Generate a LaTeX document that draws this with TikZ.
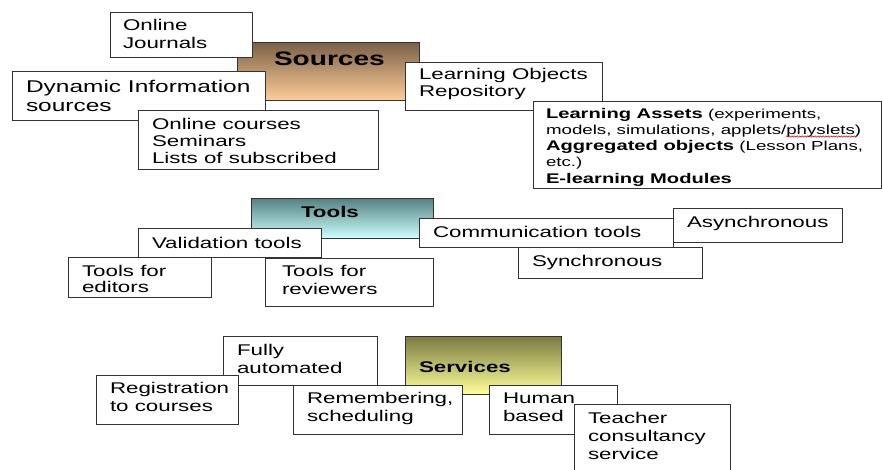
\documentclass[tikz,border=0pt]{standalone}
\usepackage{fontspec}
\setmainfont{Liberation Sans}[FakeStretch=1.44]
\usetikzlibrary{decorations.pathmorphing}
\newcommand\mlines[1]{\begin{tabular}[t]{@{}l@{}}#1\end{tabular}}
\newcommand\fsn{\fontsize{15.5}{18}\selectfont}
\tikzset{
  bx/.style={draw=black!80, fill=white, line width=0.9pt, inner sep=0pt, outer sep=0pt, anchor=north west},
  hd/.style={draw=black!80, line width=0.9pt, inner sep=0pt, outer sep=0pt, anchor=north west},
  tx/.style={anchor=base west, inner sep=0pt, outer sep=0pt, font=\fsn},
  ttl/.style={anchor=base west, inner sep=0pt, outer sep=0pt},
}
\begin{document}
\begin{tikzpicture}[x=1pt,y=-1pt]
\useasboundingbox[fill=white] (0,0) rectangle (883,469);
% ---------- Sources ----------
\node[hd, top color={rgb,255:red,122;green,96;blue,70}, bottom color={rgb,255:red,255;green,204;blue,153},
      minimum width=182pt, minimum height=58pt] (src) at (237,42) {};
\node[ttl, font=\fontsize{19.5}{22}\selectfont\bfseries] (srct) at (274,65) {Sources};
\node[bx, minimum width=142pt, minimum height=45pt] (jb) at (110,12) {};
\node[tx] (jt) at (123,30) {\mlines{Online\\Journals}};
\node[bx, minimum width=253pt, minimum height=49pt] (db) at (12,71) {};
\node[tx, font=\fontsize{17}{19}\selectfont] (dt) at (26,92) {\mlines{Dynamic Information\\sources}};
\node[bx, minimum width=240pt, minimum height=59pt] (cb) at (138,110) {};
\node[tx, font=\fontsize{15.5}{17.2}\selectfont] (ct) at (152,129) {\mlines{Online courses\\Seminars\\Lists of subscribed}};
\node[bx, minimum width=197pt, minimum height=48pt] (lb) at (405,62) {};
\node[tx, font=\fontsize{15.5}{17.5}\selectfont] (lt) at (419,79) {\mlines{Learning Objects\\Repository}};
\node[bx, minimum width=348pt, minimum height=87pt] (ab) at (533,101) {};
\begin{scope}
\clip (534,102) rectangle (880,187.5);
\node[tx, font=\fontsize{13}{16.3}\selectfont] (at) at (546,118)
  {\mlines{{\fontsize{14}{16.3}\selectfont\bfseries Learning Assets} (experiments,\\
  models, simulations, applets/physlets)\\
  {\fontsize{14}{16.3}\selectfont\bfseries Aggregated objects} (Lesson Plans,\\
  etc.)\\
  {\fontsize{14}{16.3}\selectfont\bfseries E-learning Modules}}};
\end{scope}
\draw[red!85!black, line width=0.5pt, decorate, decoration={snake, amplitude=0.7pt, segment length=2.6pt}]
  (786,136.5) -- (857,136.5);
% ---------- Tools ----------
\node[hd, top color={rgb,255:red,84;green,128;blue,128}, bottom color={rgb,255:red,204;green,255;blue,255},
      minimum width=182pt, minimum height=40pt] (tb) at (251,198) {};
\node[ttl, font=\fontsize{15.5}{18}\selectfont\bfseries] (tt) at (301,217) {Tools};
\node[bx, minimum width=183pt, minimum height=29pt] (vb) at (138,228) {};
\node[tx] (vt) at (152,248) {Validation tools};
\node[bx, minimum width=143pt, minimum height=40pt] (eb) at (68,257) {};
\node[tx, font=\fontsize{15.5}{16.5}\selectfont] (et) at (82,276) {\mlines{Tools for\\editors}};
\node[bx, minimum width=168pt, minimum height=48pt] (rb) at (265,258) {};
\node[tx] (rt) at (282,276) {\mlines{Tools for\\reviewers}};
\node[bx, minimum width=254pt, minimum height=29pt] (mb) at (419,218) {};
\node[tx] (mt) at (433,237) {Communication tools};
\node[bx, minimum width=169pt, minimum height=34pt] (yb) at (673,208) {};
\node[tx] (yt) at (687,227) {Asynchronous};
\node[bx, minimum width=184pt, minimum height=31pt] (sb) at (518,247) {};
\node[tx] (st) at (532,266) {Synchronous};
% ---------- Services ----------
\node[bx, minimum width=154pt, minimum height=49pt] (fb) at (223,336) {};
\node[tx] (ft) at (237,355) {\mlines{Fully\\automated}};
\node[bx, minimum width=142pt, minimum height=49pt] (gb) at (96,375) {};
\node[tx] (gt) at (110,393) {\mlines{Registration\\to courses}};
\node[hd, top color={rgb,255:red,122;green,122;blue,66}, bottom color={rgb,255:red,255;green,255;blue,153},
      minimum width=156pt, minimum height=58pt] (svb) at (405,336) {};
\node[ttl, font=\fontsize{15.5}{18}\selectfont\bfseries] (svt) at (419,372) {Services};
\node[bx, minimum width=169pt, minimum height=49pt] (mrb) at (293,385) {};
\node[tx] (mrt) at (307,403) {\mlines{Remembering,\\scheduling}};
\node[bx, minimum width=128pt, minimum height=49pt] (hb) at (489,385) {};
\node[tx] (ht) at (503,403) {\mlines{Human\\based}};
\node[bx, minimum width=156pt, minimum height=80pt] (kb) at (574,404) {};
\node[tx] (kt) at (588,423) {\mlines{Teacher\\consultancy\\service}};
\end{tikzpicture}
\end{document}
